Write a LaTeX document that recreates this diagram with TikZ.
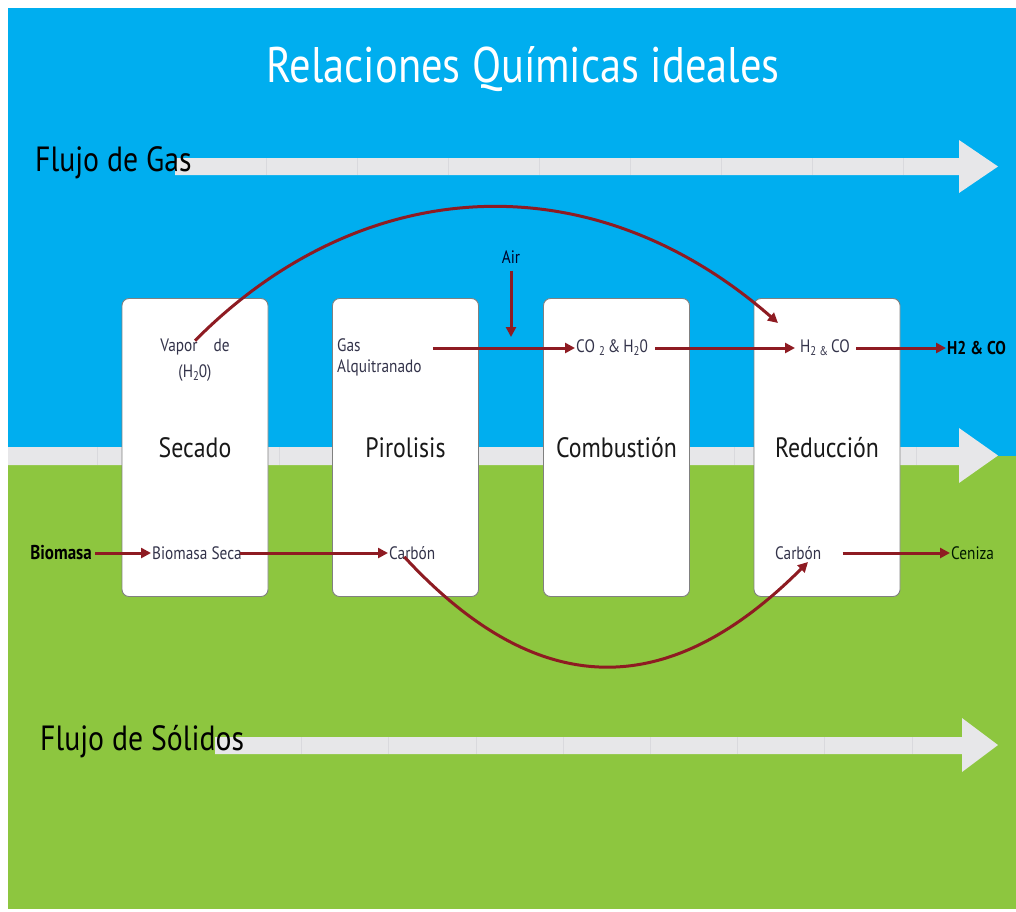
\documentclass[tikz,border=0pt]{standalone}
\usepackage{fontspec}
\setmainfont{PT Sans}[FakeStretch=0.85]
\usetikzlibrary{arrows.meta}
\definecolor{skyblue}{HTML}{00AEEF}
\definecolor{leafgreen}{HTML}{8DC63F}
\definecolor{flowgray}{HTML}{E7E7E9}
\definecolor{seamgray}{HTML}{D9D9DD}
\definecolor{redline}{HTML}{8E1B22}
\definecolor{labelgray}{HTML}{33334A}
\newcommand{\lsub}[1]{\raisebox{-0.35ex}{\scalebox{0.7}{#1}}}
\begin{document}
\begin{tikzpicture}[x=1pt,y=-1pt,
  box/.style={draw=gray, line width=0.9pt, fill=white, rounded corners=7pt,
    minimum width=146pt, minimum height=298pt, inner sep=0pt,
    font=\fontsize{28}{31}\selectfont, text=black!90},
  lab/.style={inner sep=1pt, font=\fontsize{18}{21}\selectfont, text=labelgray},
  flowlab/.style={inner sep=0pt, anchor=west, font=\fontsize{35}{38}\selectfont, text=black},
  rarrow/.style={draw=redline, line width=3pt, -{Triangle[length=10pt,width=10pt]}},
  seam/.style={draw=seamgray, line width=0.6pt}
]
\useasboundingbox (0,0) rectangle (1016,911);
\fill[white] (0,0) rectangle (1016,911);
\fill[skyblue] (8,8) rectangle (1016,456);
\fill[leafgreen] (8,456) rectangle (1016,909);

% flow arrows
\fill[flowgray] (175,158) -- (959,158) -- (959,140) -- (998,166.5) -- (959,193) -- (959,175) -- (175,175) -- cycle;
\foreach \sx in {266,357,448,539,630,721,812,903} \draw[seam] (\sx,158) -- (\sx,175);
\fill[flowgray] (8,447) -- (959,447) -- (959,428) -- (998,455.5) -- (959,483) -- (959,465) -- (8,465) -- cycle;
\foreach \sx in {97,188,279,370,461,552,643,734,825,916} \draw[seam] (\sx,447) -- (\sx,465);
\fill[flowgray] (215,737) -- (962,737) -- (962,718) -- (998,745) -- (962,772) -- (962,754) -- (215,754) -- cycle;
\foreach \sx in {301,388,476,563,650,737,824,912} \draw[seam] (\sx,737) -- (\sx,754);

% title and flow labels
\node[text=white, font=\fontsize{50}{54}\selectfont] (title) at (523,69) {Relaciones Químicas ideales};
\node[flowlab] (fgas) at (35,163) {Flujo de Gas};
\node[flowlab] (fsol) at (40,742) {Flujo de Sólidos};

% boxes
\node[box] (secado) at (195,447.5) {Secado};
\node[box] (pirolisis) at (405.5,447.5) {Pirolisis};
\node[box] (combustion) at (616.5,447.5) {Combustión};
\node[box] (reduccion) at (827,447.5) {Reducción};

% labels
\node[lab] (vapor) at (195,347) {Vapor\hspace{16pt}de};
\node[lab] (h2o) at (195,373) {(H\lsub{2}0)};
\node[lab, anchor=west, align=left, font=\fontsize{18}{21}\selectfont] (gasalq) at (336,357.5) {Gas\\Alquitranado};
\node[lab, text=black!85!blue] (air) at (511,257) {Air};
\coordinate (airend) at (511,337);
\node[lab, anchor=west] (co2) at (575,348) {CO \lsub{2}\,\&\,H\lsub{2}0};
\node[lab, anchor=west] (h2co) at (799,348) {H\lsub{2}\,\lsub{\&}\,CO};
\node[lab, anchor=west, text=black, font=\bfseries\fontsize{18.5}{21}\selectfont] (h2out) at (946,348) {H2 \& CO};
\node[lab, anchor=east, text=black, font=\bfseries\fontsize{20}{22}\selectfont] (biomasa) at (93,553) {Biomasa};
\node[lab, anchor=west] (bseca) at (151,553) {Biomasa Seca};
\node[lab, anchor=west] (carbon1) at (388,553) {Carbón};
\node[lab, anchor=west] (carbon2) at (774,553) {Carbón};
\node[lab, anchor=west, text=black!90!green] (ceniza) at (950,553) {Ceniza};

% arrows
\draw[rarrow] ([xshift=10pt]gasalq.north east |- co2.west) -- (co2.west);
\draw[rarrow, shorten >=4pt] ([xshift=6pt]co2.east) -- (h2co.west);
\draw[rarrow] ([xshift=5pt]h2co.east) -- (h2out.west);
\draw[rarrow] (air.south) ++(0,6) -- (airend);
\draw[rarrow] (biomasa.east) ++(2,0) -- (bseca.west);
\draw[rarrow] ([xshift=-3pt]bseca.east) -- (carbon1.west);
\draw[rarrow] ([xshift=20pt]carbon2.east) -- (ceniza.west);
\coordinate (va) at (362,172);
\coordinate (vb) at (592,160);
\coordinate (vend) at (778,323);
\draw[rarrow] ([yshift=-3pt]vapor.north) .. controls (va) and (vb) .. (vend);
\coordinate (ca) at (542,706);
\coordinate (cb) at (672,698);
\coordinate (cend) at (808,562);
\draw[rarrow] ([xshift=-8pt,yshift=4pt]carbon1.south) .. controls (ca) and (cb) .. (cend);
\end{tikzpicture}
\end{document}
